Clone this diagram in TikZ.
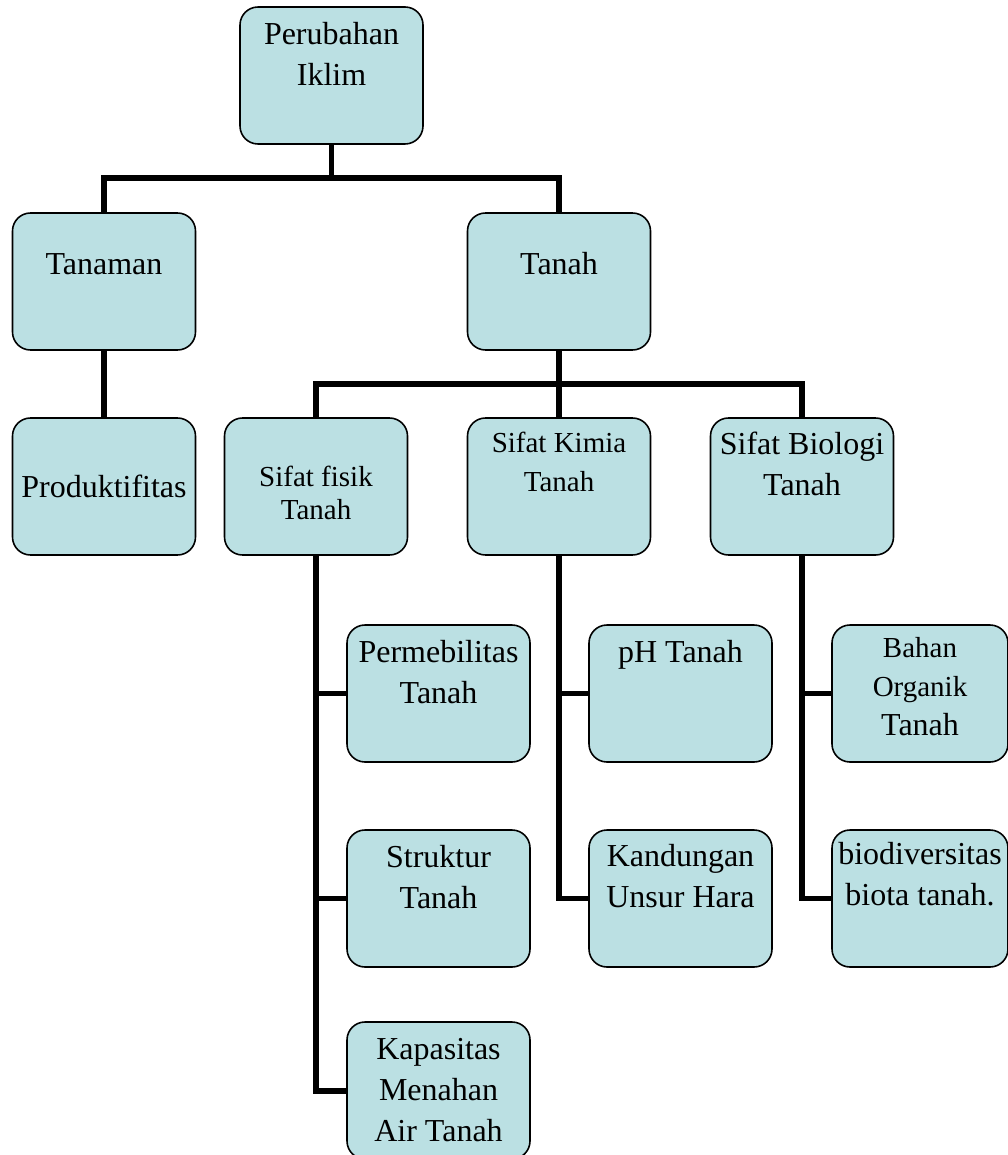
\documentclass[tikz,border=0pt]{standalone}
\usepackage{fontspec}
\setmainfont{Liberation Serif}
\usepackage{tikz}
\definecolor{boxfill}{RGB}{187,224,227}
\newcommand{\mainsize}{\fontsize{18.2}{23.3}\selectfont}
\newcommand{\smallsize}{\fontsize{16.5}{22.2}\selectfont}
\tikzset{
  box/.style={draw=black, line width=0.9pt, fill=boxfill, rounded corners=0.36cm,
    minimum width=3.66cm, minimum height=2.74cm, inner sep=0pt},
  txt/.style={anchor=north, inner sep=0pt, align=center, font=\mainsize},
  conn/.style={line width=3.4pt}
}
\begin{document}
\begin{tikzpicture}
\useasboundingbox (0,0) rectangle (20.16,-23.1);
\clip (0,0) rectangle (20.16,-23.1);
% Boxes
\node[box] (iklim) at (6.63,-1.51) {};
\node[box] (tanaman) at (2.08,-5.63) {};
\node[box] (tanah) at (11.18,-5.63) {};
\node[box] (produktif) at (2.08,-9.73) {};
\node[box] (fisik) at (6.32,-9.73) {};
\node[box] (kimia) at (11.18,-9.73) {};
\node[box] (biologi) at (16.04,-9.73) {};
\node[box] (permeabel) at (8.77,-13.87) {};
\node[box] (struktur) at (8.77,-17.97) {};
\node[box] (kapasitas) at (8.77,-21.81) {};
\node[box] (ph) at (13.61,-13.87) {};
\node[box] (hara) at (13.61,-17.97) {};
\node[box, minimum width=3.52cm] (organik) at (18.40,-13.87) {};
\node[box, minimum width=3.52cm] (biota) at (18.40,-17.97) {};
% Labels
\node[txt] (iklim-t) at ([yshift=-0.19cm]iklim.north) {\strut Perubahan\\Iklim};
\node[txt] (tanaman-t) at ([yshift=-0.67cm]tanaman.north) {\strut Tanaman};
\node[txt] (tanah-t) at ([yshift=-0.67cm]tanah.north) {\strut Tanah};
\node[txt] (produktif-t) at ([yshift=-1.03cm]produktif.north) {\strut Produktifitas};
\node[txt, font=\fontsize{16.5}{18.8}\selectfont] (fisik-t) at ([yshift=-0.92cm]fisik.north) {\strut Sifat fisik\\Tanah};
\node[txt, font=\smallsize] (kimia-t) at ([yshift=-0.15cm]kimia.north) {\strut Sifat Kimia\\Tanah};
\node[txt] (biologi-t) at ([yshift=-0.17cm]biologi.north) {\strut Sifat Biologi\\Tanah};
\node[txt] (permeabel-t) at ([yshift=-0.19cm]permeabel.north) {\strut Permebilitas\\Tanah};
\node[txt] (struktur-t) at ([yshift=-0.19cm]struktur.north) {\strut Struktur\\Tanah};
\node[txt] (kapasitas-t) at ([yshift=-0.19cm]kapasitas.north) {\strut Kapasitas\\Menahan\\Air Tanah};
\node[txt] (ph-t) at ([yshift=-0.19cm]ph.north) {\strut pH Tanah};
\node[txt] (hara-t) at ([yshift=-0.17cm]hara.north) {\strut Kandungan\\Unsur Hara};
\node[txt, font=\smallsize] (organik-t) at ([yshift=-0.11cm]organik.north) {\strut Bahan\\Organik\\{\mainsize Tanah}};
\node[txt] (biota-t) at ([yshift=-0.13cm]biota.north) {\strut biodiversitas\\biota tanah.};
% Connectors
\coordinate (bar1) at (6.63,-3.56);
\coordinate (bar2) at (11.18,-7.68);
\draw[conn] (iklim.south) -- (bar1);
\draw[conn] (tanaman.north) |- (bar1) -| (tanah.north);
\draw[conn] (tanaman.south) -- (produktif.north);
\draw[conn] (tanah.south) -- (bar2);
\draw[conn] (fisik.north) |- (bar2) -| (biologi.north);
\draw[conn] (bar2) -- (kimia.north);
\draw[conn] (fisik.south) |- (kapasitas.west);
\draw[conn] (fisik.south |- permeabel.west) -- (permeabel.west);
\draw[conn] (fisik.south |- struktur.west) -- (struktur.west);
\draw[conn] (kimia.south) |- (hara.west);
\draw[conn] (kimia.south |- ph.west) -- (ph.west);
\draw[conn] (biologi.south) |- (biota.west);
\draw[conn] (biologi.south |- organik.west) -- (organik.west);
\end{tikzpicture}
\end{document}
